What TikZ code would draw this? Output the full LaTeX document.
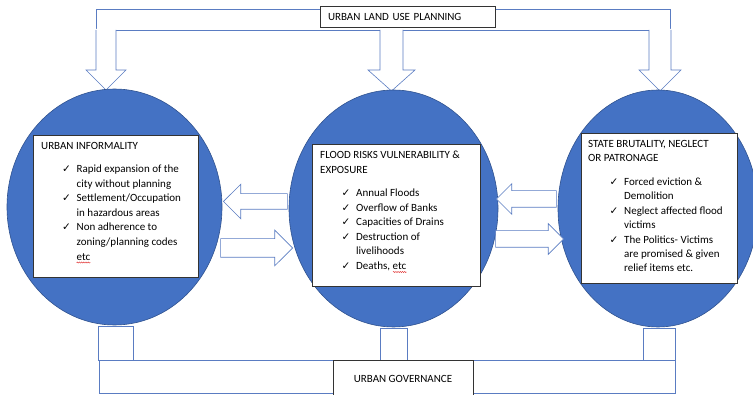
\documentclass[tikz,border=0pt]{standalone}
\usepackage{fontspec}
\setmainfont{Carlito}
\newfontfamily\checkfont{DejaVu Sans}
\usetikzlibrary{shapes.geometric,shapes.arrows,decorations.pathmorphing}
\definecolor{ofblue}{HTML}{4472C4}
\definecolor{ofdark}{HTML}{2F528F}
\definecolor{ofline}{HTML}{5A7CC2}
\definecolor{spellred}{HTML}{E02828}
% tick in the first column of a list
\newcommand\ticked{\makebox[14.5pt][l]{\checkfont\fontsize{10.5}{14.6}\selectfont\char"2713}}

\begin{document}
\begin{tikzpicture}[x=1pt, y=-1pt,
  hub/.style={ellipse, fill=ofblue, draw=ofdark, line width=0.6pt, inner sep=0pt},
  card/.style={rectangle, draw=black!80, line width=0.7pt, fill=white, inner sep=0pt, font=\fontsize{11}{13}\selectfont},
  heading/.style={anchor=base west, inner sep=0pt, font=\fontsize{11}{14.6}\selectfont},
  points/.style={anchor=base west, inner sep=0pt, font=\fontsize{11}{14.6}\selectfont},
  frame/.style={draw=ofline, line width=0.6pt, inner sep=0pt},
  blockarrow/.style={single arrow, draw=ofline, fill=white, line width=0.6pt, inner xsep=0pt, single arrow tip angle=90, anchor=tip},
  spell/.style={draw=spellred, line width=0.4pt, decorate, decoration={snake, amplitude=0.6pt, segment length=2.2pt}}]
  \useasboundingbox (0,0) rectangle (753,395);

  % planning bar and its three drops
  \node[frame, minimum width=574pt, minimum height=21pt] (planBar) at (383,19.5) {};
  \fill[white] (96,29) -- (96,70) -- (86,70) -- (106,90) -- (126,70) -- (116,70) -- (116,29) -- cycle;
  \draw[frame] (96,30) -- (96,70) -- (86,70) -- (106,90) -- (126,70) -- (116,70) -- (116,30);
  \fill[white] (380,29) -- (380,70) -- (368,70) -- (391.5,91) -- (415,70) -- (403,70) -- (403,29) -- cycle;
  \draw[frame] (380,30) -- (380,70) -- (368,70) -- (391.5,91) -- (415,70) -- (403,70) -- (403,30);
  \fill[white] (649,29) -- (649,70) -- (639,70) -- (660,91) -- (681,70) -- (671,70) -- (671,29) -- cycle;
  \draw[frame] (649,30) -- (649,70) -- (639,70) -- (660,91) -- (681,70) -- (671,70) -- (671,30);
  \node[card, minimum width=175pt, minimum height=21pt, text width=159pt, align=left] (planLabel) at (407.5,16.5) {URBAN LAND USE PLANNING};

  % the three circles
  \node[hub, minimum width=215pt, minimum height=236pt] (inf) at (114.5,207) {};
  \node[hub, minimum width=209pt, minimum height=237pt] (flood) at (393.5,208.5) {};
  \node[hub, minimum width=200pt, minimum height=237pt] (state) at (658,208.5) {};

  % text cards
  \node[card, minimum width=165pt, minimum height=142pt] (infCard) at (115.5,206) {};
  \node[card, minimum width=168pt, minimum height=142pt] (floodCard) at (396,215) {};
  \node[card, minimum width=156pt, minimum height=150pt] (stateCard) at (659,208) {};

  \node[heading] (infHead) at (41,149.5) {URBAN INFORMALITY};
  \node[points] (infList) at (62,172.5) {\begin{tabular}[t]{@{}l@{}l@{}}
    \ticked & Rapid expansion of the\\
            & city without planning\\
    \ticked & Settlement/Occupation\\
            & in hazardous areas\\
    \ticked & Non adherence to\\
            & zoning/planning codes\\
            & etc
  \end{tabular}};

  \node[heading] (floodHead) at (320,158.5) {\begin{tabular}[t]{@{}l@{}}
    FLOOD RISKS VULNERABILITY \&\\
    EXPOSURE
  \end{tabular}};
  \node[points] (floodList) at (341.5,196.5) {\begin{tabular}[t]{@{}l@{}l@{}}
    \ticked & Annual Floods\\
    \ticked & Overflow of Banks\\
    \ticked & Capacities of Drains\\
    \ticked & Destruction of\\
            & livelihoods\\
    \ticked & Deaths, etc
  \end{tabular}};

  \node[heading, font=\fontsize{11}{14.2}\selectfont] (stateHead) at (588,147.5) {\begin{tabular}[t]{@{}l@{}}
    STATE BRUTALITY, NEGLECT\\
    OR PATRONAGE
  \end{tabular}};
  \node[points, font=\fontsize{11}{14.4}\selectfont] (stateList) at (609.5,185.5) {\begin{tabular}[t]{@{}l@{}l@{}}
    \ticked & Forced eviction \&\\
            & Demolition\\
    \ticked & Neglect affected flood\\
            & victims\\
    \ticked & The Politics- Victims\\
            & are promised \& given\\
            & relief items etc.
  \end{tabular}};

  % spelling marks
  \draw[spell] (76.5,262.5) -- (90.5,262.5);
  \draw[spell] (393,272) -- (406.5,272);

  % arrows between the circles
  \node[blockarrow, shape border rotate=180, inner ysep=7.5pt, single arrow head extend=9.5pt, minimum height=64pt] (floodToInf) at (223,201.5) {};
  \node[blockarrow, inner ysep=9pt, single arrow head extend=8.5pt, minimum height=72pt] (infToFlood) at (293,248) {};
  \node[blockarrow, shape border rotate=180, inner ysep=8pt, single arrow head extend=7pt, minimum height=60pt] (stateToFlood) at (496,199) {};
  \node[blockarrow, inner ysep=8pt, single arrow head extend=7pt, minimum height=68pt] (floodToState) at (564,239) {};

  % governance bar and stems
  \node[frame, minimum width=576pt, minimum height=33pt] (govBar) at (387,376.5) {};
  \draw[frame, fill=white] (98.5,326) rectangle (133,360);
  \draw[frame, fill=white] (380,328) rectangle (407,360);
  \draw[frame, fill=white] (643,328) rectangle (675,360);
  \node[card, minimum width=140pt, minimum height=37pt] (govLabel) at (403,378.5) {URBAN GOVERNANCE};
\end{tikzpicture}
\end{document}
